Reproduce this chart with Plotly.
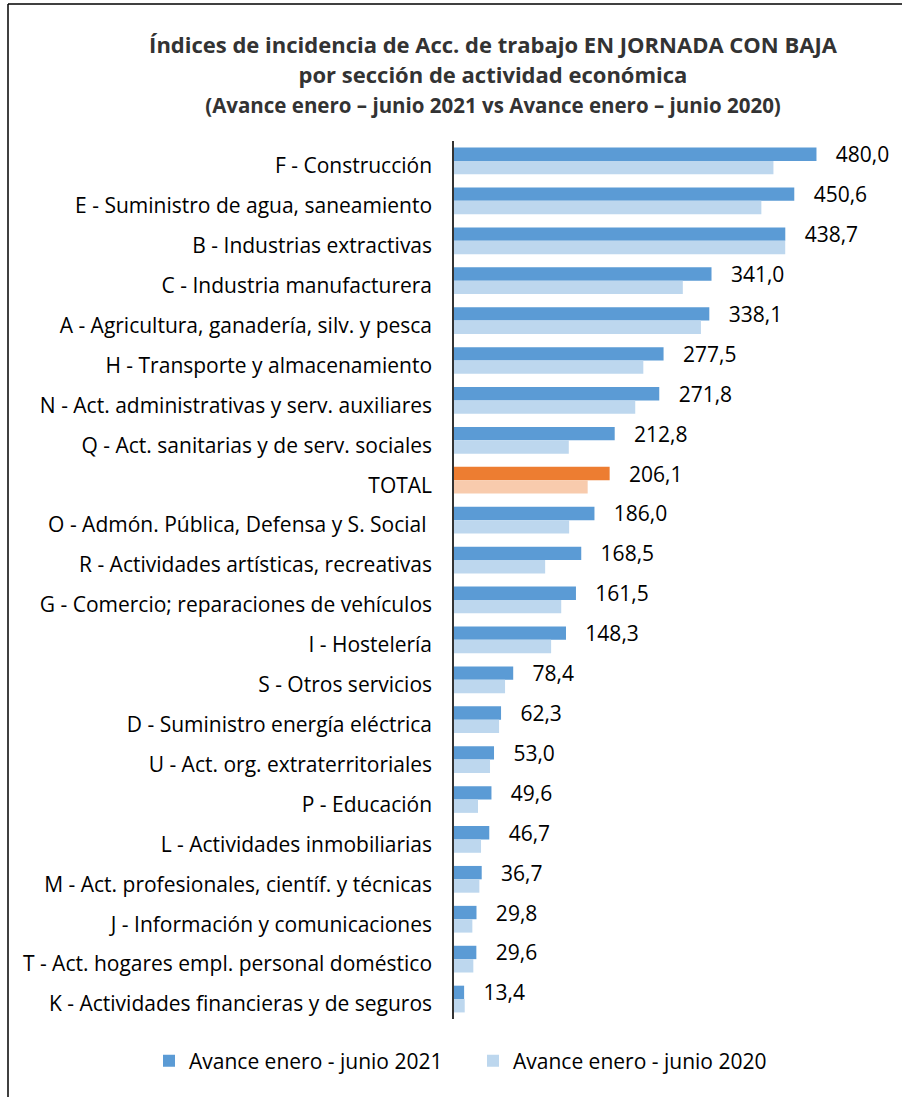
import plotly.graph_objects as go

categories = [
    "F - Construcción",
    "E - Suministro de agua, saneamiento",
    "B - Industrias extractivas",
    "C - Industria manufacturera",
    "A - Agricultura, ganadería, silv. y pesca",
    "H - Transporte y almacenamiento",
    "N - Act. administrativas y serv. auxiliares",
    "Q - Act. sanitarias y de serv. sociales",
    "TOTAL",
    "O - Admón. Pública, Defensa y S. Social ",
    "R - Actividades artísticas, recreativas",
    "G - Comercio; reparaciones de vehículos",
    "I - Hostelería",
    "S - Otros servicios",
    "D - Suministro energía eléctrica",
    "U - Act. org. extraterritoriales",
    "P - Educación",
    "L - Actividades inmobiliarias",
    "M - Act. profesionales, científ. y técnicas",
    "J - Información y comunicaciones",
    "T - Act. hogares empl. personal doméstico",
    "K - Actividades financieras y de seguros",
]

values_2021 = [480.0, 450.6, 438.7, 341.0, 338.1, 277.5, 271.8, 212.8, 206.1, 186.0,
               168.5, 161.5, 148.3, 78.4, 62.3, 53.0, 49.6, 46.7, 36.7, 29.8, 29.6, 13.4]
values_2020 = [423.0, 407.0, 438.6, 303.0, 327.0, 250.7, 240.0, 152.0, 177.0, 152.5,
               120.7, 142.0, 128.6, 67.6, 59.7, 47.7, 31.8, 35.8, 33.6, 24.3, 25.6, 14.2]

series_names = ["Avance enero - junio 2021", "Avance enero - junio 2020"]

BLUE_DARK = "#5B9BD5"
BLUE_LIGHT = "#BDD7EE"
ORANGE_DARK = "#ED7D31"
ORANGE_LIGHT = "#F8CBAD"
FONT = "'Open Sans', 'Noto Sans', sans-serif"

colors_2021 = [ORANGE_DARK if c == "TOTAL" else BLUE_DARK for c in categories]
colors_2020 = [ORANGE_LIGHT if c == "TOTAL" else BLUE_LIGHT for c in categories]

labels_2021 = ["   " + f"{v:.1f}".replace(".", ",") for v in values_2021]

fig = go.Figure()
fig.add_trace(go.Bar(
    y=categories, x=values_2021, orientation="h", name=series_names[0],
    marker=dict(color=colors_2021, line=dict(width=0)),
    text=labels_2021, textposition="outside", cliponaxis=False,
    constraintext="none",
    textfont=dict(family=FONT, size=21, color="#000000"),
    hoverinfo="x+y",
))
fig.add_trace(go.Bar(
    y=categories, x=values_2020, orientation="h", name=series_names[1],
    marker=dict(color=colors_2020, line=dict(width=0)),
    hoverinfo="x+y",
))

L, R, T, B = 454, 10, 141, 78
W, H = 902, 1097
pw = W - L - R
ph = H - T - B

def px_to_paper_x(px):
    return (px - L) / pw

def py_to_paper_y(py):
    return (H - B - py) / ph

fig.update_layout(
    width=W, height=H,
    margin=dict(l=L, r=R, t=T, b=B),
    paper_bgcolor="white", plot_bgcolor="white",
    barmode="group", bargap=0.33, bargroupgap=0.0,
    font=dict(family=FONT, size=21, color="#000000"),
    title=dict(
        text=("<span style='font-size:22px'><b>Índices de incidencia de Acc. de trabajo EN JORNADA CON BAJA</b></span><br>"
              "<span style='font-size:22px'><b>por sección de actividad económica</b></span><br>"
              "<span style='font-size:20.5px'><b>(Avance enero – junio 2021 vs Avance enero – junio 2020)</b></span>"),
        x=493 / W, xanchor="center", xref="container",
        y=1 - 53 / H, yanchor="top", yref="container",
        font=dict(family=FONT, size=23, color="#333333"),
    ),
    xaxis=dict(range=[0, 580], showgrid=False, zeroline=False, showticklabels=False,
               showline=False, ticks=""),
    yaxis=dict(autorange="reversed", showgrid=False, zeroline=False,
               showline=True, linecolor="#333333", linewidth=1.5,
               ticks="", ticklabelstandoff=16, ticklabelshift=-5,
               tickfont=dict(family=FONT, size=21, color="#000000")),
    legend=dict(orientation="h", xref="paper", x=px_to_paper_x(149), xanchor="left",
                yref="paper", y=py_to_paper_y(1061), yanchor="middle",
                font=dict(family=FONT, size=21, color="#000000"),
                itemwidth=30, traceorder="normal", entrywidth=279,
                entrywidthmode="pixels"),
    showlegend=True,
    shapes=[
        dict(type="line", xref="paper", yref="paper",
             x0=px_to_paper_x(8), x1=px_to_paper_x(8),
             y0=py_to_paper_y(4), y1=py_to_paper_y(1110),
             line=dict(color="#000000", width=1.5)),
        dict(type="line", xref="paper", yref="paper",
             x0=px_to_paper_x(8), x1=px_to_paper_x(910),
             y0=py_to_paper_y(4), y1=py_to_paper_y(4),
             line=dict(color="#000000", width=1.5)),
    ],
)

fig.write_html("out.html", config={"displayModeBar": False},
               post_script="document.body.style.margin='0';document.body.style.overflow='hidden';")
